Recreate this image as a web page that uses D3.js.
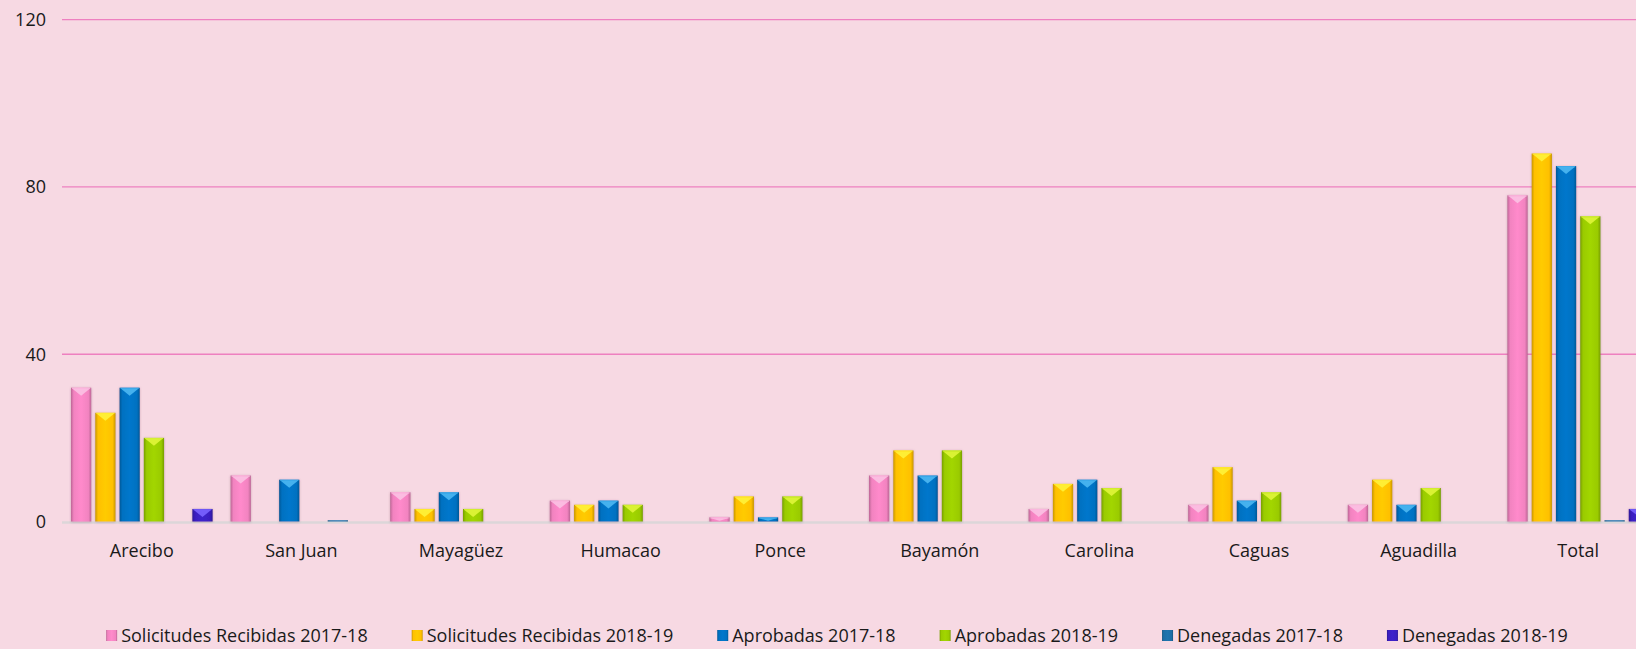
<!DOCTYPE html>
<html>
<head>
<meta charset="utf-8">
<script src="https://cdn.jsdelivr.net/npm/d3@7"></script>
<style>
  html, body { margin: 0; padding: 0; background: #f7d9e3; }
  svg { display: block; font-family: "Open Sans", "Noto Sans", sans-serif; }
</style>
</head>
<body>
<svg id="chart"></svg>
<script>
// data
var categories = ["Arecibo", "San Juan", "Mayagüez", "Humacao", "Ponce", "Bayamón", "Carolina", "Caguas", "Aguadilla", "Total"];
var seriesNames = ["Solicitudes Recibidas 2017-18", "Solicitudes Recibidas 2018-19", "Aprobadas 2017-18", "Aprobadas 2018-19", "Denegadas 2017-18", "Denegadas 2018-19"];
var solicitudes1718 = [32, 11, 7, 5, 1, 11, 3, 4, 4, 78];
var solicitudes1819 = [26, 0, 3, 4, 6, 17, 9, 13, 10, 88];
var aprobadas1718 = [32, 10, 7, 5, 1, 11, 10, 5, 4, 85];
var aprobadas1819 = [20, 0, 3, 4, 6, 17, 8, 7, 8, 73];
var denegadas1718 = [0, 0.3, 0, 0, 0, 0, 0, 0, 0, 0.3];
var denegadas1819 = [3, 0, 0, 0, 0, 0, 0, 0, 0, 3];
var yTicks = [0, 40, 80, 120];

var colors = ["#f283c0", "#ffc000", "#0071c1", "#9acb00", "#1c6ea6", "#3b1fc0"],
    lights = ["#fbc2e3", "#fff23a", "#4cb8f2", "#e0f53a", "#3e9fd6", "#7a63ff"];

var values = [solicitudes1718, solicitudes1819, aprobadas1718, aprobadas1819, denegadas1718, denegadas1819];

var width = 1636, height = 649,
    left = 62, bandW = 159.6;

var svg = d3.select("#chart").attr("width", width).attr("height", height);

svg.append("rect").attr("width", width).attr("height", height).attr("fill", "#f7d9e3");

var defs = svg.append("defs");
colors.forEach(function(c, i) {
    var g = defs.append("linearGradient").attr("id", "grad" + i)
        .attr("x1", 0).attr("x2", 1).attr("y1", 0).attr("y2", 0);
    var dark = d3.color(c).darker(0.7);
    g.append("stop").attr("offset", "0%").attr("stop-color", dark);
    g.append("stop").attr("offset", "14%").attr("stop-color", c);
    g.append("stop").attr("offset", "50%").attr("stop-color", d3.color(c).brighter(0.15));
    g.append("stop").attr("offset", "86%").attr("stop-color", c);
    g.append("stop").attr("offset", "100%").attr("stop-color", dark);
});
var f = defs.append("filter").attr("id", "shadow")
    .attr("x", "-30%").attr("y", "-10%").attr("width", "160%").attr("height", "120%");
f.append("feDropShadow").attr("dx", 0).attr("dy", 0.5).attr("stdDeviation", 1.1)
    .attr("flood-color", "#6b3050").attr("flood-opacity", 0.35);

var x = d3.scaleBand().domain(categories).range([left, left + bandW * categories.length]);
var xs = d3.scaleBand().domain(d3.range(seriesNames.length)).range([0, x.bandwidth()])
    .paddingInner(0.165).paddingOuter(0.37);
var y = d3.scaleLinear().domain([0, 120]).range([521.5, 19.7]);

// gridlines
svg.append("g").selectAll("line")
    .data(yTicks.filter(function(d) { return d > 0; }))
    .enter().append("line")
    .attr("x1", left).attr("x2", width)
    .attr("y1", function(d) { return y(d); }).attr("y2", function(d) { return y(d); })
    .attr("stroke", "#ee80c0").attr("stroke-width", 1.3);

// y labels
svg.append("g").selectAll("text")
    .data(yTicks).enter().append("text")
    .attr("x", 46).attr("y", function(d) { return y(d); })
    .attr("dy", "0.35em").attr("text-anchor", "end")
    .attr("font-size", 18).attr("fill", "#1a1a1a")
    .text(function(d) { return d; });

// baseline
svg.append("line").attr("x1", left).attr("x2", width)
    .attr("y1", y(0) + 1).attr("y2", y(0) + 1)
    .attr("stroke", "#dcd6d9").attr("stroke-width", 2.5);

// bars
var groups = svg.append("g").selectAll("g")
    .data(categories).enter().append("g")
    .attr("transform", function(d) { return "translate(" + x(d) + ",0)"; });

var bars = groups.selectAll("g.bar")
    .data(function(c, ci) {
        return values.map(function(v, si) { return { s: si, v: v[ci] }; })
            .filter(function(d) { return d.v > 0; });
    })
    .enter().append("g").attr("class", "bar");

bars.append("rect")
    .attr("x", function(d) { return xs(d.s); })
    .attr("width", xs.bandwidth())
    .attr("y", function(d) { return y(d.v); })
    .attr("height", function(d) { return y(0) - y(d.v); })
    .attr("fill", function(d) { return "url(#grad" + d.s + ")"; })
    .attr("filter", function(d) { return d.v >= 1 ? "url(#shadow)" : null; });

// top bevel highlight
bars.filter(function(d) { return d.v >= 1; })
    .append("path")
    .attr("d", function(d) {
        var x0 = xs(d.s), w = xs.bandwidth(), t = y(d.v),
            h = Math.min(7, (y(0) - t) * 0.6);
        return "M" + (x0 + 1.5) + "," + (t + 1) + "L" + (x0 + w - 1.5) + "," + (t + 1) +
            "L" + (x0 + w / 2) + "," + (t + 1 + h) + "Z";
    })
    .attr("fill", function(d) { return lights[d.s]; })
    .attr("opacity", 0.9);
bars.filter(function(d) { return d.v >= 1; })
    .append("rect")
    .attr("x", function(d) { return xs(d.s) + 1; })
    .attr("width", xs.bandwidth() - 2)
    .attr("y", function(d) { return y(d.v); })
    .attr("height", 1.2)
    .attr("fill", function(d) { return lights[d.s]; })
    .attr("opacity", 0.8);

// category labels
svg.append("g").selectAll("text")
    .data(categories).enter().append("text")
    .attr("x", function(d) { return x(d) + x.bandwidth() / 2; })
    .attr("y", 557)
    .attr("text-anchor", "middle")
    .attr("font-size", 18).attr("fill", "#1a1a1a")
    .text(function(d) { return d; });

// legend
var legend = svg.append("g");
var items = legend.selectAll("g").data(seriesNames).enter().append("g");
items.append("rect")
    .attr("x", 0).attr("y", -12).attr("width", 11).attr("height", 11)
    .attr("fill", function(d, i) { return "url(#grad" + i + ")"; });
items.append("text")
    .attr("x", 15).attr("y", 0)
    .attr("font-size", 18).attr("fill", "#1a1a1a")
    .text(function(d) { return d; });

var gap = 44, widths = [];
items.each(function() { widths.push(this.getBBox().width); });
var total = d3.sum(widths) + gap * (widths.length - 1);
var cx = 837 - total / 2;
items.attr("transform", function(d, i) {
    var pos = cx;
    cx += widths[i] + gap;
    return "translate(" + pos + ",642)";
});
</script>
</body>
</html>
